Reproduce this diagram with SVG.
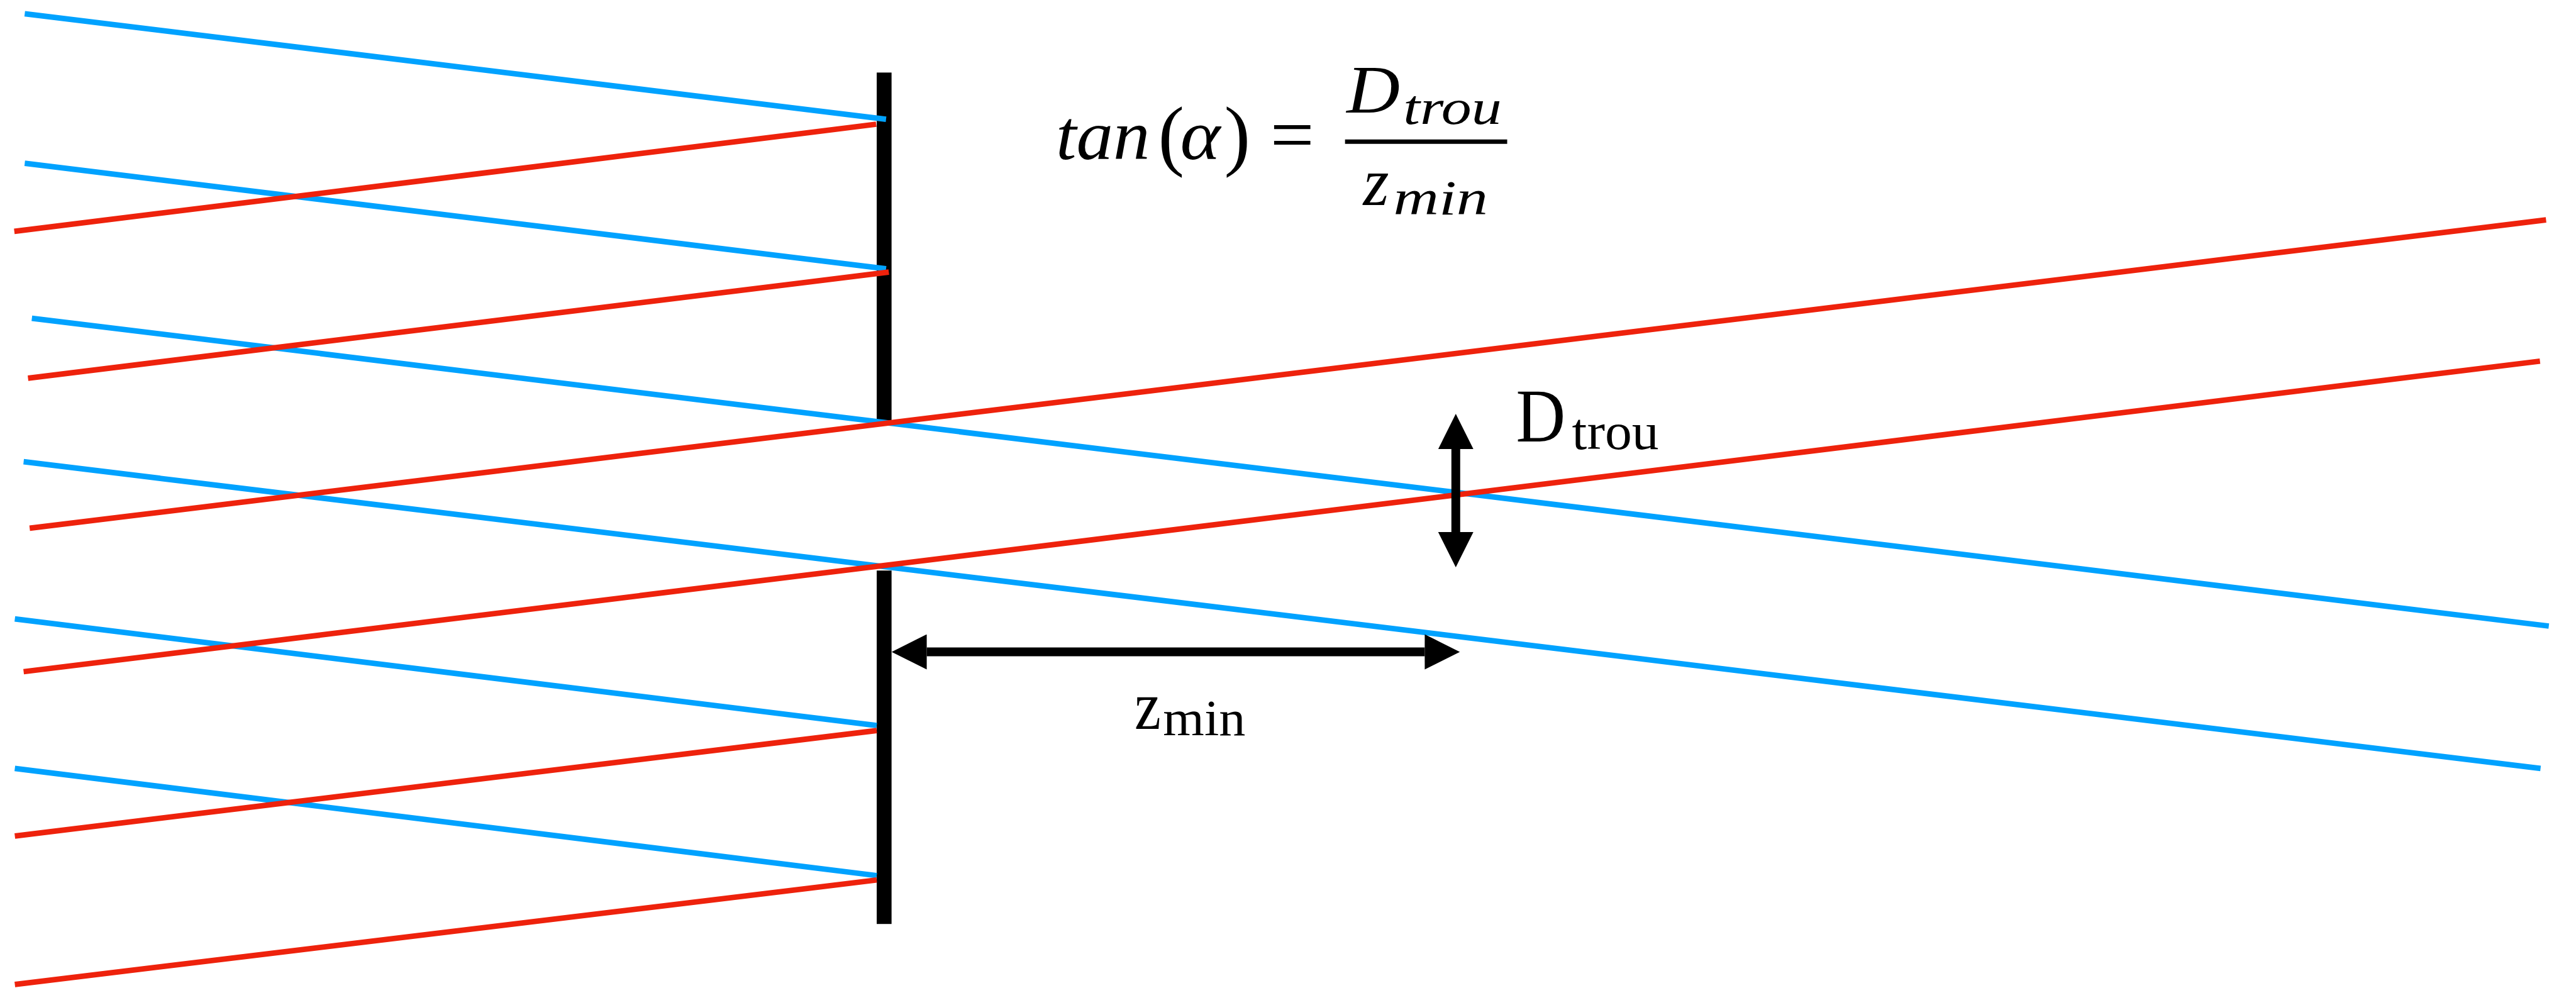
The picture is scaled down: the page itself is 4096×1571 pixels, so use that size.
<svg xmlns="http://www.w3.org/2000/svg" width="4096" height="1571" viewBox="0 0 4096 1571">
<defs>
<style>
.blue{stroke:#00A2FF;stroke-width:10;fill:none}
.red{stroke:#EE220C;stroke-width:10;fill:none}
.wall{fill:#000}
.dim{stroke:#000;stroke-width:16;fill:none}
.m{font-family:"Liberation Serif","Times New Roman",serif;fill:#000}
.it{font-style:italic}
</style>
<marker id="ah" viewBox="0 0 64 64" refX="0" refY="32" markerWidth="64" markerHeight="64" markerUnits="userSpaceOnUse" orient="auto-start-reverse">
<path d="M0,0 L64,32 L0,64 Z" fill="#000"/>
</marker>
</defs>
<rect width="4096" height="1571" fill="#fff"/>
<g transform="scale(0.874)">
<g id="wall">
<rect class="wall" x="1595" y="132" width="27" height="640"/>
<rect class="wall" x="1595" y="1038" width="27" height="643"/>
</g>
<g id="rays-blue">
<line class="blue" x1="45" y1="25" x2="1612" y2="217"/>
<line class="blue" x1="45" y1="297" x2="1612" y2="489"/>
<line class="blue" x1="58" y1="579" x2="4637" y2="1139"/>
<line class="blue" x1="43" y1="840" x2="4622" y2="1398"/>
<line class="blue" x1="27" y1="1126" x2="1595" y2="1320"/>
<line class="blue" x1="27" y1="1398" x2="1595" y2="1593"/>
</g>
<g id="rays-red">
<line class="red" x1="26" y1="421" x2="1594" y2="226"/>
<line class="red" x1="51" y1="688" x2="1617" y2="495"/>
<line class="red" x1="54" y1="961" x2="4632" y2="400"/>
<line class="red" x1="43" y1="1222" x2="4621" y2="657"/>
<line class="red" x1="27" y1="1521" x2="1595" y2="1329"/>
<line class="red" x1="27" y1="1791" x2="1595" y2="1601"/>
</g>
<g id="connectors">
<line id="arrow-dtrou" class="dim" x1="2648.5" y1="817" x2="2648.5" y2="968" marker-start="url(#ah)" marker-end="url(#ah)"/>
<line id="arrow-zmin" class="dim" x1="1686" y1="1186" x2="2592" y2="1186" marker-start="url(#ah)" marker-end="url(#ah)"/>
</g>
<g id="formula">
<text class="m it" x="1921" y="290" font-size="128" textLength="171" lengthAdjust="spacingAndGlyphs">tan</text>
<text class="m" x="2107" y="293" font-size="143">(</text>
<text class="m it" x="2147" y="290" font-size="128" textLength="73" lengthAdjust="spacingAndGlyphs">α</text>
<text class="m" x="2227" y="293" font-size="143">)</text>
<text class="m" x="2311" y="292" font-size="140" textLength="80" lengthAdjust="spacingAndGlyphs">=</text>
<text class="m it" x="2450" y="205" font-size="124" textLength="97" lengthAdjust="spacingAndGlyphs">D</text>
<text class="m it" x="2553" y="225" font-size="90" textLength="179" lengthAdjust="spacingAndGlyphs">trou</text>
<line x1="2447" y1="257.7" x2="2742" y2="257.7" stroke="#000" stroke-width="8"/>
<text class="m it" x="2480" y="373" font-size="124" textLength="47" lengthAdjust="spacingAndGlyphs">z</text>
<text class="m it" x="2535" y="390" font-size="90" textLength="172" lengthAdjust="spacingAndGlyphs">min</text>
</g>
<g id="label-dtrou">
<text class="m" x="2758" y="803" font-size="139" textLength="90" lengthAdjust="spacingAndGlyphs">D</text>
<text class="m" x="2860" y="817" font-size="95" textLength="158" lengthAdjust="spacingAndGlyphs">trou</text>
</g>
<g id="label-zmin">
<text class="m" x="2064" y="1326" font-size="125" textLength="48" lengthAdjust="spacingAndGlyphs">z</text>
<text class="m" x="2116" y="1338" font-size="92" textLength="150" lengthAdjust="spacingAndGlyphs">min</text>
</g>
</g>
</svg>
